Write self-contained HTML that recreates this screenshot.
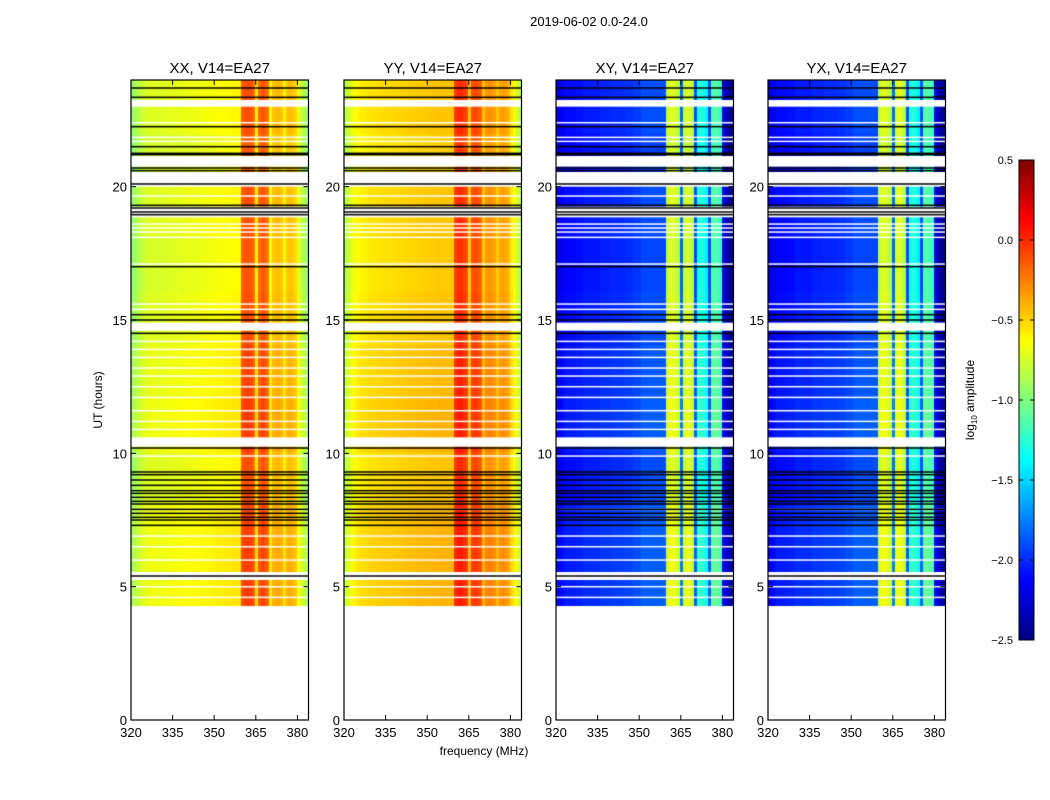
<!DOCTYPE html>
<html><head><meta charset="utf-8">
<style>
body{margin:0;background:#fff;width:1050px;height:800px;overflow:hidden;font-family:"Liberation Sans","DejaVu Sans",sans-serif}
#wrap{position:relative;width:1050px;height:800px}
canvas{position:absolute}
svg{position:absolute;left:0;top:0}
</style></head>
<body><div id="wrap">
<canvas id="c0"></canvas>
<canvas id="c1"></canvas>
<canvas id="c2"></canvas>
<canvas id="c3"></canvas>
<canvas id="cb"></canvas>
<svg id="ov" width="1050" height="800"></svg>
</div>
<script>
// frequency channels: 1 MHz from 320
const freqStart = 320;
const xxProfile = [-0.95,-0.9,-0.85,-0.8,-0.76,-0.74,-0.73,-0.72,-0.72,-0.72,-0.72,-0.72,-0.71,-0.71,-0.7,-0.7,-0.7,-0.69,-0.69,-0.68,-0.68,-0.68,-0.68,-0.67,-0.67,-0.66,-0.66,-0.65,-0.65,-0.64,-0.64,-0.63,-0.63,-0.62,-0.62,-0.62,-0.61,-0.6,-0.6,-0.6,-0.15,-0.1,-0.1,-0.12,-0.2,-0.55,-0.18,-0.12,-0.15,-0.2,-0.6,-0.45,-0.42,-0.42,-0.45,-0.58,-0.45,-0.42,-0.45,-0.5,-0.68,-0.75,-0.85,-0.9];
const yyProfile = [-0.85,-0.8,-0.72,-0.66,-0.62,-0.6,-0.58,-0.57,-0.56,-0.55,-0.54,-0.54,-0.53,-0.53,-0.52,-0.52,-0.52,-0.51,-0.51,-0.5,-0.5,-0.5,-0.49,-0.49,-0.48,-0.48,-0.48,-0.47,-0.47,-0.47,-0.46,-0.46,-0.46,-0.45,-0.45,-0.45,-0.45,-0.45,-0.45,-0.45,-0.05,0.0,0.0,-0.05,-0.1,-0.45,-0.1,-0.08,-0.1,-0.15,-0.45,-0.32,-0.3,-0.3,-0.35,-0.45,-0.35,-0.33,-0.35,-0.4,-0.55,-0.62,-0.72,-0.82];
const xyProfile = [-2.3,-2.2,-2.15,-2.1,-2.1,-2.1,-2.1,-2.08,-2.08,-2.08,-2.05,-2.05,-2.05,-2.05,-2.05,-2.05,-2.02,-2.02,-2.02,-2.02,-2.0,-2.0,-2.0,-2.0,-2.0,-1.98,-1.98,-1.98,-1.95,-1.95,-1.95,-1.9,-1.9,-1.9,-1.9,-1.9,-1.9,-1.9,-1.9,-1.9,-0.8,-0.7,-0.72,-0.78,-0.85,-1.8,-0.8,-0.72,-0.75,-0.85,-1.9,-1.3,-1.25,-1.3,-1.4,-1.9,-1.15,-1.1,-1.15,-1.2,-2.2,-2.3,-2.4,-2.45];
const yxProfile = [-2.3,-2.2,-2.15,-2.1,-2.1,-2.1,-2.1,-2.08,-2.08,-2.08,-2.05,-2.05,-2.05,-2.05,-2.05,-2.05,-2.02,-2.02,-2.02,-2.02,-2.0,-2.0,-2.0,-2.0,-2.0,-1.98,-1.98,-1.98,-1.95,-1.95,-1.95,-1.9,-1.9,-1.9,-1.9,-1.9,-1.9,-1.9,-1.9,-1.9,-0.82,-0.7,-0.72,-0.78,-0.85,-1.8,-0.75,-0.7,-0.75,-0.85,-1.9,-1.3,-1.25,-1.3,-1.4,-1.9,-1.15,-1.1,-1.15,-1.2,-2.2,-2.3,-2.4,-2.45];
const dataStart = 4.3, dataEnd = 24;
// flagged (white) time ranges in hours
const gapStarts = [23.0,21.15,20.0,18.85,14.6,10.25,5.25,20.75];
const gapEnds   = [23.25,20.85,20.55,19.25,14.9,10.6,5.55,20.85];
const thinWhite = [22.4,21.85,21.7,19.65,18.6,18.45,18.3,18.1,17.1,15.6,15.4,14.2,13.9,13.6,13.2,12.9,12.5,12.1,11.6,11.2,10.9,9.9,7.9,6.9,6.5,6.0,5.0,4.6];
const blackLines = [23.7,23.35,22.25,21.5,21.25,21.2,20.7,20.6,20.1,19.3,19.2,19.05,18.95,17.0,15.2,15.0,14.5,10.2,9.3,9.2,9.0,8.8,8.6,8.5,8.35,8.2,8.1,7.9,7.75,7.6,7.5,7.3,5.4];
const rowOffsetHours = [4,6,8,10,12,14,16,18,20,22];
const rowOffsetVals = [0.05,0.05,0.0,0.05,0.03,0.0,-0.02,0.0,-0.03,0.0];
const panelTitles = ["XX, V14=EA27","YY, V14=EA27","XY, V14=EA27","YX, V14=EA27"];
const profiles = [xxProfile,yyProfile,xyProfile,yxProfile];
const xTicks = [320,335,350,365,380];
const yTicks = [0,5,10,15,20];
const cbTicks = [0.5,0.0,-0.5,-1.0,-1.5,-2.0,-2.5];

const panelLefts=[131,344,556,768], pw=177.5, topY=80, bottomY=720;
const fMin=320,fMax=384,vMin=-2.5,vMax=0.5;
function xs(f,i){return panelLefts[i]+(f-fMin)/(fMax-fMin)*pw;}
function ys(h){return bottomY-(h/24)*(bottomY-topY);}
function jet(v){let t=(v-vMin)/(vMax-vMin);t=Math.max(0,Math.min(1,t));
 const r=Math.max(0,Math.min(1,1.5-Math.abs(4*t-3))),g=Math.max(0,Math.min(1,1.5-Math.abs(4*t-2))),b=Math.max(0,Math.min(1,1.5-Math.abs(4*t-1)));
 return `rgb(${Math.round(r*255)},${Math.round(g*255)},${Math.round(b*255)})`;}
function rowOff(h){let o=0;for(let k=0;k<rowOffsetHours.length;k++){if(h>=rowOffsetHours[k])o=rowOffsetVals[k];}return o;}

for(let i=0;i<4;i++){
 const c=document.getElementById('c'+i);
 c.width=Math.ceil(pw);c.height=bottomY-topY;c.style.left=panelLefts[i]+'px';c.style.top=topY+'px';
 const ctx=c.getContext('2d');const prof=profiles[i];
 const step=0.1;
 for(let h=dataStart;h<dataEnd-1e-9;h+=step){
  const y0=ys(h+step)-topY,y1=ys(h)-topY;
  for(let ch=0;ch<prof.length;ch++){
   const f=freqStart+ch;
   ctx.fillStyle=jet(prof[ch]+rowOff(h));
   const x0=xs(f,i)-panelLefts[i],x1=xs(f+1,i)-panelLefts[i];
   ctx.fillRect(Math.floor(x0),Math.floor(y0),Math.ceil(x1-x0)+1,Math.ceil(y1-y0)+1);
  }
 }
 ctx.fillStyle='#fff';
 for(let k=0;k<gapStarts.length;k++){const a=ys(gapEnds[k])-topY,b=ys(gapStarts[k])-topY;ctx.fillRect(0,a,c.width,b-a);}
 for(const h of thinWhite){ctx.fillRect(0,ys(h)-topY-0.7,c.width,1.5);}
 ctx.fillStyle='#000';
 for(const h of blackLines){ctx.fillRect(0,ys(h)-topY-0.75,c.width,1.5);}
}
// colorbar
const cb=document.getElementById('cb');cb.width=15;cb.height=480;cb.style.left='1019px';cb.style.top='160px';
{const ctx=cb.getContext('2d');for(let y=0;y<480;y++){ctx.fillStyle=jet(vMax-(y/480)*(vMax-vMin));ctx.fillRect(0,y,15,1);}}

const svg=document.getElementById('ov');const NS='http://www.w3.org/2000/svg';
function el(tag,attrs,parent,text){const e=document.createElementNS(NS,tag);for(const k in attrs)e.setAttribute(k,attrs[k]);if(text!==undefined)e.textContent=text;(parent||svg).appendChild(e);return e;}
let t=el('text',{x:589,y:26,'font-size':13,'text-anchor':'middle'},svg,'2019-06-02 0.0-24.0');


for(let i=0;i<4;i++){
 const g=el('g',{});
 
 
 const L=panelLefts[i];
 const tt=el('text',{x:L+pw/2,y:73,'font-size':15,'text-anchor':'middle'},g,panelTitles[i]);
 
 
 el('rect',{x:L,y:topY,width:pw,height:bottomY-topY,fill:'none',stroke:'#000','stroke-width':1.2},g);
 for(const f of xTicks){const x=xs(f,i);
  el('line',{x1:x,x2:x,y1:bottomY,y2:bottomY-5,stroke:'#000'},g);el('line',{x1:x,x2:x,y1:topY,y2:topY+5,stroke:'#000'},g);
  const lt=el('text',{x:x,y:737,'font-size':13,'text-anchor':'middle'},g,String(f));
  
  }
 for(const h of yTicks){const y=ys(h);
  el('line',{x1:L,x2:L+5,y1:y,y2:y,stroke:'#000'},g);el('line',{x1:L+pw,x2:L+pw-5,y1:y,y2:y,stroke:'#000'},g);
  const lt=el('text',{x:L-4,y:y+5,'font-size':13,'text-anchor':'end'},g,String(h));
  
  }
}
t=el('text',{x:484,y:755,'font-size':12,'text-anchor':'middle'},svg,'frequency (MHz)');


t=el('text',{x:0,y:0,'font-size':12,'text-anchor':'middle',transform:'translate(102,400) rotate(-90)'},svg,'UT (hours)');


el('rect',{x:1019,y:160,width:15,height:480,fill:'none',stroke:'#000','stroke-width':1});
for(const v of cbTicks){const y=160+(vMax-v)/(vMax-vMin)*480;
 el('line',{x1:1019,x2:1023,y1:y,y2:y,stroke:'#000'});el('line',{x1:1030,x2:1034,y1:y,y2:y,stroke:'#000'});
 const lt=el('text',{x:1013,y:y+4,'font-size':11,'text-anchor':'end'},svg,(v<0?'\u2212':'')+Math.abs(v).toFixed(1));
 
 }
t=el('text',{x:0,y:0,'font-size':12,'text-anchor':'middle',transform:'translate(974,400) rotate(-90)'},svg);


el('tspan',{},t,'log');el('tspan',{'font-size':8,dy:3},t,'10');el('tspan',{dy:-3},t,' amplitude');
</script>
</body></html>
